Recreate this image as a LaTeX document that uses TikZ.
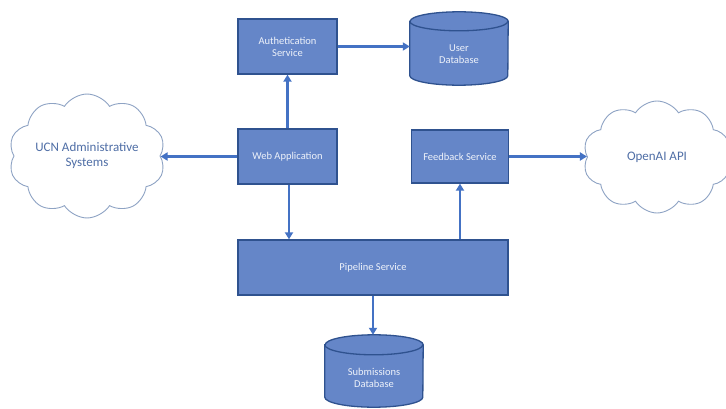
\documentclass[tikz,border=0pt]{standalone}
\usepackage{fontspec}
\setmainfont{Carlito}
\usetikzlibrary{shapes.symbols,arrows.meta,calc}
\definecolor{boxfill}{HTML}{6586C8}
\definecolor{boxline}{HTML}{2F528F}
\definecolor{arrowc}{HTML}{4472C4}
\definecolor{cloudline}{HTML}{8EA3C4}
\definecolor{cloudtext}{HTML}{4F6EA6}
\definecolor{boxtext}{HTML}{EEF2FA}
\tikzset{
  svcbox/.style={rectangle, draw=boxline, fill=boxfill, line width=1.3pt, text=boxtext,
    font=\fontsize{10.5}{12}\selectfont, align=center, inner sep=0pt},
  dbbox/.style={rectangle, draw=none, text=boxtext,
    font=\fontsize{10.5}{12}\selectfont, align=center, inner sep=0pt},
  cyl/.style={draw=boxline, fill=boxfill, line width=1.3pt},
  cloudnode/.style={cloud, cloud puffs=10, cloud puff arc=115, aspect=1.4, draw=cloudline,
    fill=white, line width=0.9pt, text=cloudtext, font=\fontsize{13}{15}\selectfont,
    align=center, inner sep=0pt},
  conn/.style={draw=arrowc, line width=2.3pt, -{Triangle[length=7pt,width=8pt]}}
}
\newcommand{\dbdraw}[2]{% node name, ellipse y radius
  \path[cyl] ($(#1.north west)+(0,-#2)$) -- ($(#1.south west)+(0,#2)$)
    arc[start angle=180,end angle=360,x radius={0.5*(\dbw)},y radius=#2]
    -- ($(#1.north east)+(0,-#2)$)
    arc[start angle=0,end angle=180,x radius={0.5*(\dbw)},y radius=#2] -- cycle;
  \draw[cyl, fill=none] ($(#1.north west)+(0,-#2)$)
    arc[start angle=180,end angle=360,x radius={0.5*(\dbw)},y radius=#2];
}
\begin{document}
\begin{tikzpicture}[x=1pt,y=1pt]
\useasboundingbox (0,0) rectangle (726,408);
\fill[white] (0,0) rectangle (726,408);

\node[svcbox, minimum width=99pt, minimum height=55pt] (auth) at (287.5,361.5) {Authetication\\Service};
\node[svcbox, minimum width=99pt, minimum height=55pt] (web) at (287.5,251.5) {Web Application};
\node[svcbox, minimum width=97pt, minimum height=53pt] (feed) at (460,251.5) {Feedback Service};
\node[svcbox, minimum width=270pt, minimum height=55pt] (pipe) at (373,140.5) {Pipeline Service};

\def\dbw{98pt}
\node[dbbox, minimum width=98pt, minimum height=73pt] (userdb) at (459,359.5) {};
\dbdraw{userdb}{9.5pt}
\node[dbbox] (userdbt) at (459,354) {User\\Database};

\node[dbbox, minimum width=98pt, minimum height=72pt] (subdb) at (374,37) {};
\dbdraw{subdb}{10pt}
\node[dbbox] (subdbt) at (374,30) {Submissions\\Database};

\node[cloudnode, minimum width=148pt, minimum height=110pt] (ucn) at (87,252) {UCN Administrative\\Systems};
\node[cloudnode, minimum width=148pt, minimum height=112pt] (openai) at (657,251) {OpenAI API};

\draw[conn] (web.north) -- (auth.south);
\draw[conn] (auth.east) -- (auth.east -| userdb.west);
\draw[conn] (web.west) -- (web.west -| ucn.east);
\draw[conn] ([xshift=1.5pt]web.south) -- ([xshift=1.5pt]web.south |- pipe.north);
\draw[conn] (feed.south |- pipe.north) -- (feed.south);
\draw[conn] (feed.east) -- (feed.east -| openai.west);
\draw[conn] (pipe.south) -- (pipe.south |- subdb.north);
\end{tikzpicture}
\end{document}
